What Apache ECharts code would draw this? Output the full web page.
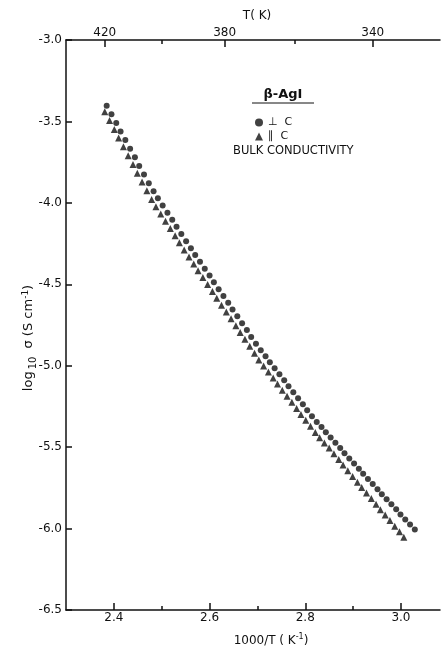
<!DOCTYPE html>
<html>
<head>
<meta charset="utf-8">
<script src="https://cdn.jsdelivr.net/npm/echarts@6/dist/echarts.min.js"></script>
<style>
  html, body { margin: 0; padding: 0; background: #fff; overflow: hidden; }
  #chart { width: 441px; height: 647px; }
</style>
</head>
<body>
<div id="chart"></div>
<script>
// beta-AgI bulk conductivity
// x = 1000/T (K^-1), y = log10 sigma (S cm^-1)
const perpX = [2.385, 2.395, 2.405, 2.414, 2.424, 2.434, 2.444, 2.453, 2.463, 2.473,
  2.483, 2.492, 2.502, 2.512, 2.522, 2.531, 2.541, 2.551, 2.561, 2.570,
  2.580, 2.590, 2.600, 2.609, 2.619, 2.629, 2.639, 2.648, 2.658, 2.668,
  2.678, 2.687, 2.697, 2.707, 2.717, 2.726, 2.736, 2.746, 2.756, 2.765,
  2.775, 2.785, 2.795, 2.804, 2.814, 2.824, 2.834, 2.843, 2.853, 2.863,
  2.873, 2.882, 2.892, 2.902, 2.912, 2.921, 2.931, 2.941, 2.951, 2.960,
  2.970, 2.980, 2.990, 2.999, 3.009, 3.019, 3.029];
const perpY = [-3.403, -3.456, -3.509, -3.562, -3.614, -3.667, -3.720, -3.773, -3.826, -3.879,
  -3.929, -3.972, -4.016, -4.060, -4.104, -4.147, -4.191, -4.235, -4.278, -4.320,
  -4.362, -4.404, -4.446, -4.488, -4.530, -4.572, -4.613, -4.655, -4.697, -4.739,
  -4.781, -4.823, -4.865, -4.905, -4.942, -4.979, -5.015, -5.052, -5.089, -5.126,
  -5.163, -5.200, -5.236, -5.273, -5.310, -5.345, -5.377, -5.409, -5.441, -5.473,
  -5.505, -5.537, -5.569, -5.601, -5.633, -5.664, -5.695, -5.726, -5.758, -5.789,
  -5.820, -5.851, -5.882, -5.913, -5.944, -5.975, -6.006];

const paraX = [2.381, 2.391, 2.401, 2.410, 2.420, 2.430, 2.440, 2.449, 2.459, 2.469,
  2.479, 2.488, 2.498, 2.508, 2.518, 2.528, 2.537, 2.547, 2.557, 2.567,
  2.576, 2.586, 2.596, 2.606, 2.615, 2.625, 2.635, 2.645, 2.655, 2.664,
  2.674, 2.684, 2.694, 2.703, 2.713, 2.723, 2.733, 2.742, 2.752, 2.762,
  2.772, 2.782, 2.791, 2.801, 2.811, 2.821, 2.830, 2.840, 2.850, 2.860,
  2.870, 2.879, 2.889, 2.899, 2.909, 2.918, 2.928, 2.938, 2.948, 2.957,
  2.967, 2.977, 2.987, 2.997, 3.006];
const paraY = [-3.441, -3.495, -3.549, -3.602, -3.656, -3.710, -3.764, -3.818, -3.872, -3.925,
  -3.979, -4.024, -4.069, -4.113, -4.157, -4.202, -4.245, -4.289, -4.333, -4.375,
  -4.417, -4.459, -4.501, -4.544, -4.586, -4.628, -4.670, -4.712, -4.754, -4.796,
  -4.838, -4.881, -4.923, -4.965, -5.002, -5.039, -5.076, -5.113, -5.151, -5.188,
  -5.225, -5.262, -5.299, -5.335, -5.372, -5.410, -5.442, -5.474, -5.506, -5.541,
  -5.576, -5.610, -5.645, -5.680, -5.715, -5.748, -5.782, -5.816, -5.850, -5.884,
  -5.917, -5.951, -5.985, -6.019, -6.053];

// tick labels
const xMajor = [2.4, 2.6, 2.8, 3.0];
const xMinor = [2.5, 2.7, 2.9];
const tMajor = [420, 380, 340];
const tMinor = [400, 360];

const FONT = 'DejaVu Sans';
const BLACK = '#111';

const zip = (xs, ys) => xs.map((x, i) => [x, ys[i]]);
const invT = ts => ts.map(t => 1000 / t);

const chart = echarts.init(document.getElementById('chart'));

// the frame runs off the right edge of the original scan, so the axis stops short of 3.1
const baseX = { type: 'value', min: 2.3, max: 3.0816, splitLine: { show: false } };
const lineStyle = { color: BLACK, width: 1.5 };

const option = {
  animation: false,
  backgroundColor: '#fff',
  grid: { left: 66, right: 1, top: 40, bottom: 37, containLabel: false, outerBoundsMode: 'none' },
  xAxis: [
    Object.assign({}, baseX, {
      position: 'bottom',
      axisLine: { show: true, lineStyle: lineStyle },
      axisTick: { show: true, inside: true, length: 7, customValues: xMajor, lineStyle: lineStyle },
      axisLabel: { customValues: xMajor, formatter: v => v.toFixed(1), color: BLACK, fontFamily: FONT, fontSize: 12, margin: 2 },
      name: '{a|1000/T ( K}{sup|-1}{a|)}',
      nameLocation: 'middle',
      nameGap: 23,
      nameTextStyle: {
        padding: [0, 0, 0, 36],
        rich: {
          a: { fontFamily: FONT, fontSize: 12, color: BLACK },
          sup: { fontFamily: FONT, fontSize: 8, color: BLACK, padding: [0, 0, 7, 0] }
        }
      }
    }),
    Object.assign({}, baseX, {
      position: 'bottom',
      axisLine: { show: false },
      axisTick: { show: true, inside: true, length: 4, customValues: xMinor, lineStyle: lineStyle },
      axisLabel: { show: false }
    }),
    Object.assign({}, baseX, {
      position: 'top',
      axisLine: { show: true, lineStyle: lineStyle },
      axisTick: { show: true, inside: true, length: 7, customValues: invT(tMajor), lineStyle: lineStyle },
      axisLabel: { customValues: invT(tMajor), formatter: v => String(Math.round(1000 / v)), color: BLACK, fontFamily: FONT, fontSize: 12, margin: 1 },
      name: 'T( K)',
      nameLocation: 'middle',
      nameGap: 17,
      nameTextStyle: { fontFamily: FONT, fontSize: 12, color: BLACK, padding: [0, 0, 0, 8] }
    }),
    Object.assign({}, baseX, {
      position: 'top',
      axisLine: { show: false },
      axisTick: { show: true, inside: true, length: 4, customValues: invT(tMinor), lineStyle: lineStyle },
      axisLabel: { show: false }
    })
  ],
  yAxis: {
    type: 'value',
    min: -6.5,
    max: -3.0,
    interval: 0.5,
    splitLine: { show: false },
    axisLine: { show: true, lineStyle: lineStyle },
    axisTick: { show: true, inside: true, length: 6, lineStyle: lineStyle },
    axisLabel: { formatter: v => v.toFixed(1), color: BLACK, fontFamily: FONT, fontSize: 12, margin: 4 },
    name: '{a|log}{sub|10}{a| σ (S cm}{sup|-1}{a|)}',
    nameLocation: 'middle',
    nameGap: 28,
    nameMoveOverlap: false,
    nameTextStyle: {
      padding: [0, 26, 0, 0],
      rich: {
        a: { fontFamily: FONT, fontSize: 13, color: BLACK },
        sub: { fontFamily: FONT, fontSize: 10, color: BLACK, padding: [8, 4, 0, 2] },
        sup: { fontFamily: FONT, fontSize: 9, color: BLACK, padding: [0, 0, 7, 0] }
      }
    }
  },
  legend: {
    orient: 'vertical',
    left: 250,
    top: 112,
    itemWidth: 8,
    itemHeight: 8,
    itemGap: 3,
    textStyle: { fontFamily: FONT, fontSize: 11, color: BLACK },
    data: ['⊥  C', '∥  C']
  },
  graphic: [
    { type: 'text', x: 283, y: 95, style: { text: 'β-AgI', fill: BLACK, font: 'bold 13px DejaVu Sans', align: 'center', verticalAlign: 'middle' } },
    { type: 'line', shape: { x1: 252, y1: 103, x2: 314, y2: 103 }, style: { stroke: BLACK, lineWidth: 1 } },
    { type: 'text', x: 233, y: 151, style: { text: 'BULK CONDUCTIVITY', fill: BLACK, font: '11.5px DejaVu Sans', verticalAlign: 'middle' } }
  ],
  series: [
    {
      name: '⊥  C',
      type: 'scatter',
      symbol: 'circle',
      symbolSize: 6,
      itemStyle: { color: BLACK },
      data: zip(perpX, perpY)
    },
    {
      name: '∥  C',
      type: 'scatter',
      symbol: 'triangle',
      symbolSize: 7,
      itemStyle: { color: BLACK },
      data: zip(paraX, paraY)
    }
  ]
};

chart.setOption(option);
</script>
</body>
</html>
